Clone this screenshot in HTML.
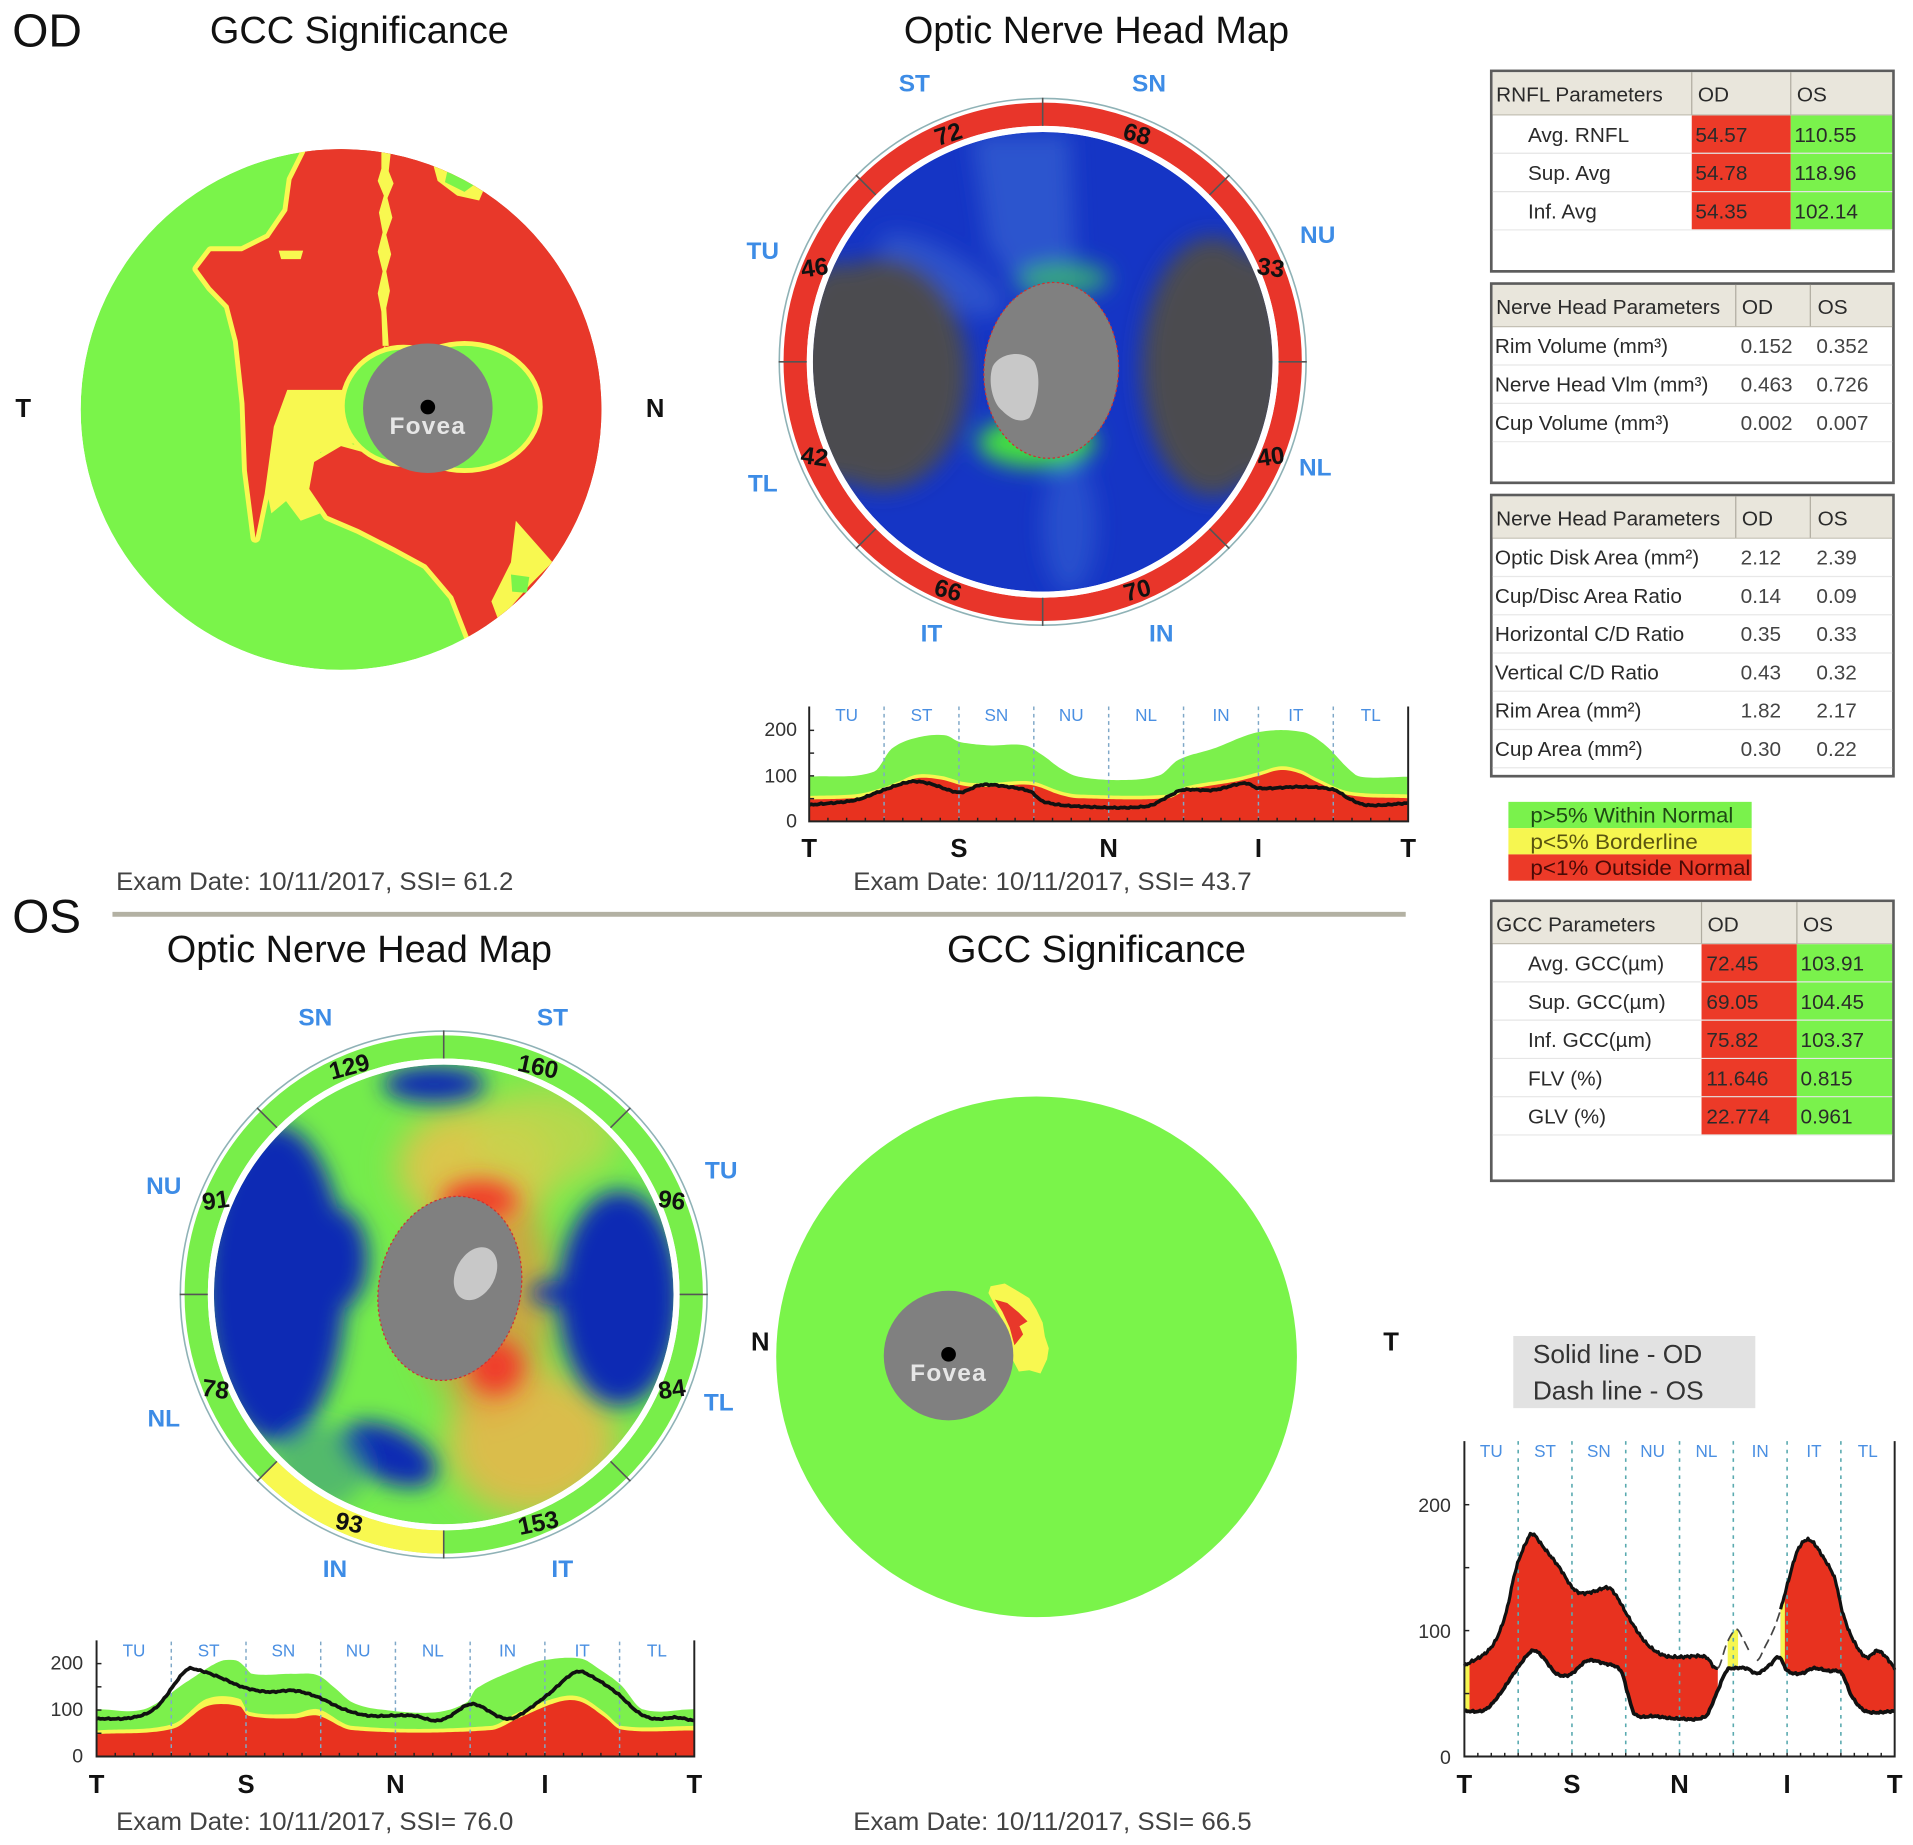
<!DOCTYPE html>
<html><head><meta charset="utf-8">
<style>
html,body{margin:0;padding:0;background:#fff;}
svg{display:block;}
text{font-family:"Liberation Sans",Arial,sans-serif;}
.t17{font-size:17px;fill:#2a2a2a;}
.v17{font-size:17px;fill:#444;}
.blue{font-size:20px;font-weight:bold;fill:#3d8ce6;text-anchor:middle;}
.num{font-size:20px;font-weight:bold;fill:#111;text-anchor:middle;}
.sec{font-size:14px;fill:#4a8fe2;text-anchor:middle;}
.ax{font-size:21px;font-weight:bold;fill:#111;text-anchor:middle;}
.tk{font-size:16px;fill:#333;text-anchor:end;}
.ex{font-size:20.5px;fill:#424242;}
</style></head><body>
<svg xmlns="http://www.w3.org/2000/svg" width="1913" height="1845" viewBox="0 0 1565 1509.4" preserveAspectRatio="none">
<defs>
<clipPath id="clipGOD"><circle cx="279" cy="335" r="213"/></clipPath>
<clipPath id="mOD"><circle cx="853" cy="296" r="188"/></clipPath>
<clipPath id="mOS"><circle cx="363" cy="1059" r="188"/></clipPath>
<filter id="b9" x="-50%" y="-50%" width="200%" height="200%"><feGaussianBlur stdDeviation="9"/></filter>
<filter id="b6" x="-50%" y="-50%" width="200%" height="200%"><feGaussianBlur stdDeviation="6"/></filter>
<filter id="b14" x="-50%" y="-50%" width="200%" height="200%"><feGaussianBlur stdDeviation="14"/></filter>
</defs>
<rect width="1565" height="1510" fill="#fff"/>

<!-- Titles -->
<text x="10" y="38" font-size="38" fill="#111">OD</text>
<text x="294" y="35" font-size="31" fill="#111" text-anchor="middle">GCC Significance</text>
<text x="897" y="35" font-size="31" fill="#111" text-anchor="middle">Optic Nerve Head Map</text>
<text x="10" y="763" font-size="39" fill="#111">OS</text>
<text x="294" y="787" font-size="31" fill="#111" text-anchor="middle">Optic Nerve Head Map</text>
<text x="897" y="787" font-size="31" fill="#111" text-anchor="middle">GCC Significance</text>
<rect x="92" y="746" width="1058" height="4" fill="#b3b1a3"/>

<!-- OD GCC significance -->
<g clip-path="url(#clipGOD)">
 <circle cx="279" cy="335" r="213" fill="#7af44a"/>
 <path d="M249.6,100 L600,100 L600,600 L383.5,600 L383.5,521 L370.7,488 L348.7,462 L323,448 L293.6,433 L268,422 L253,400 L257,378 L279,365 L301,371 L330,330 L315,283 L282.6,319 L235,319 L224,349 L216.5,404 L209,440 L202,385 L200,330 L194.5,279 L187,250 L172.5,235 L161.5,220 L172.5,205.5 L198,205.5 L220,194.5 L235,172.5 L238.5,147 L249.6,124.8 Z" fill="#e8382a" stroke="#f8f850" stroke-width="8" stroke-linejoin="round"/>
 <path d="M226,319 L292,319 L292,362 L262,370 L254,392 L262,420 L246,426 L234,410 L222,420 L218,400 L224,350 Z" fill="#f8f850"/>
 <path d="M249.6,100 L600,100 L600,600 L383.5,600 L383.5,521 L370.7,488 L348.7,462 L323,448 L293.6,433 L268,422 L253,400 L257,378 L279,365 L301,371 L330,330 L315,283 L282.6,319 L235,319 L224,349 L216.5,404 L209,440 L202,385 L200,330 L194.5,279 L187,250 L172.5,235 L161.5,220 L172.5,205.5 L198,205.5 L220,194.5 L235,172.5 L238.5,147 L249.6,124.8 Z" fill="#e8382a"/>
 <path d="M312,122 L320,122 L318,140 L322,150 L317,162 L321,178 L316,192 L320,208 L316,222 L319,238 L316,252 L318,283 L313,283 L312,255 L309,240 L313,222 L309,206 L313,190 L310,174 L314,160 L309,148 L312,138 Z" fill="#f8f850"/>
 <path d="M228,205 L248,205 L246,212 L230,212 Z" fill="#f8f850"/>
 <path d="M352,126 L398,150 L392,164 L374,160 L358,148 Z" fill="#f8f850"/>
 <path d="M366,140 L388,151 L380,157 L364,149 Z" fill="#7af44a"/>
 <path d="M422,426 L452,460 L434,478 L408,508 L402,492 L418,460 Z" fill="#f8f850"/>
 <path d="M418,470 L433,472 L431,485 L419,484 Z" fill="#7af44a"/>
 <ellipse cx="330" cy="332" rx="52" ry="50" fill="#f8f850"/>
 <ellipse cx="380" cy="333" rx="64" ry="54" fill="#f8f850"/>
 <ellipse cx="330" cy="332" rx="48" ry="46" fill="#7af44a"/>
 <ellipse cx="380" cy="333" rx="60" ry="50" fill="#7af44a"/>
</g>
<circle cx="350" cy="334" r="53" fill="#808080"/>
<circle cx="350" cy="333" r="6" fill="#000"/>
<text x="350" y="355" font-size="20" font-weight="bold" fill="#e6e6e6" text-anchor="middle" letter-spacing="1">Fovea</text>
<text x="19" y="341" class="ax">T</text>
<text x="536" y="341" class="ax">N</text>
<text x="95" y="728" class="ex" textLength="325" lengthAdjust="spacingAndGlyphs">Exam Date: 10/11/2017, SSI= 61.2</text>

<!-- OD Optic nerve head map -->
<g clip-path="url(#mOD)">
 <rect x="660" y="100" width="390" height="400" fill="#1535c5"/>
 <g filter="url(#b9)">
  <path d="M795,110 L875,110 L880,235 L840,245 L808,200 Z" fill="#3f70d6" opacity="0.55"/>
  <ellipse cx="770" cy="225" rx="58" ry="20" transform="rotate(30 770 225)" fill="#3a66d0" opacity="0.6"/>
  <ellipse cx="875" cy="430" rx="22" ry="55" fill="#3360d2" opacity="0.6"/>
  <ellipse cx="722" cy="306" rx="70" ry="95" fill="#4b4b50"/>
  <ellipse cx="685" cy="305" rx="40" ry="90" fill="#4b4b50"/>
  <ellipse cx="992" cy="300" rx="58" ry="106" fill="#4b4b50"/>
  <ellipse cx="1028" cy="300" rx="30" ry="92" fill="#4b4b50"/>
  <ellipse cx="870" cy="228" rx="38" ry="14" fill="#3cc068" opacity="0.75"/>
  <ellipse cx="848" cy="362" rx="48" ry="20" fill="#45e040"/>
 </g>
 <ellipse cx="860" cy="303" rx="55" ry="72" transform="rotate(4 860 303)" fill="#808080" stroke="#d03030" stroke-width="1" stroke-dasharray="2 2"/>
 <path d="M812,300 C818,288 838,286 846,296 C852,306 850,330 842,342 C834,347 826,342 820,336 C812,330 808,312 812,300 Z" fill="#c8c8c8"/>
</g>
<circle cx="853" cy="296" r="202.5" fill="none" stroke="#e8352a" stroke-width="19"/>
<circle cx="853" cy="296" r="190.5" fill="none" stroke="#fff" stroke-width="5"/>
<circle cx="853" cy="296" r="215.5" fill="none" stroke="#8fb2b6" stroke-width="1.3"/>
<g transform="translate(853 296)" stroke="#555" stroke-width="1.3">
 <line x1="193" y1="0" x2="216" y2="0"/><line x1="193" y1="0" x2="216" y2="0" transform="rotate(45)"/>
 <line x1="193" y1="0" x2="216" y2="0" transform="rotate(90)"/><line x1="193" y1="0" x2="216" y2="0" transform="rotate(135)"/>
 <line x1="193" y1="0" x2="216" y2="0" transform="rotate(180)"/><line x1="193" y1="0" x2="216" y2="0" transform="rotate(225)"/>
 <line x1="193" y1="0" x2="216" y2="0" transform="rotate(270)"/><line x1="193" y1="0" x2="216" y2="0" transform="rotate(315)"/>
</g>
<text class="num" x="775.7" y="116.4" transform="rotate(-18 775.7 109.4)">72</text>
<text class="num" x="930.3" y="116.4" transform="rotate(15 930.3 109.4)">68</text>
<text class="num" x="1039.6" y="225.7" transform="rotate(8 1039.6 218.7)">33</text>
<text class="num" x="1039.6" y="380.3" transform="rotate(-8 1039.6 373.3)">40</text>
<text class="num" x="930.3" y="489.6" transform="rotate(-15 930.3 482.6)">70</text>
<text class="num" x="775.7" y="489.6" transform="rotate(15 775.7 482.6)">66</text>
<text class="num" x="666.4" y="380.3" transform="rotate(8 666.4 373.3)">42</text>
<text class="num" x="666.4" y="225.7" transform="rotate(-8 666.4 218.7)">46</text>
<text class="blue" x="748" y="75">ST</text>
<text class="blue" x="940" y="75">SN</text>
<text class="blue" x="1078" y="199">NU</text>
<text class="blue" x="1076" y="389">NL</text>
<text class="blue" x="950" y="525">IN</text>
<text class="blue" x="762" y="525">IT</text>
<text class="blue" x="624" y="402">TL</text>
<text class="blue" x="624" y="212">TU</text>

<!-- OD TSNIT chart -->
<path id="aG" fill="#7cf04c"/><path id="aY" fill="#f6f650"/><path id="aR" fill="#e8321f"/>
<g id="aD" stroke="#7fa8c8" stroke-width="1.2" stroke-dasharray="3 3"></g>
<path id="aK" fill="none" stroke="#111" stroke-width="3" stroke-linejoin="round"/>
<path d="M662,578 L662,672 L1152,672 L1152,578" fill="none" stroke="#222" stroke-width="1.6"/>
<g id="aT" stroke="#222" stroke-width="1.2"></g>
<text class="tk" x="652" y="602">200</text>
<text class="tk" x="652" y="640">100</text>
<text class="tk" x="652" y="677">0</text>
<g class="sec"><text x="692.6" y="590">TU</text><text x="753.9" y="590">ST</text><text x="815.1" y="590">SN</text><text x="876.4" y="590">NU</text><text x="937.6" y="590">NL</text><text x="998.9" y="590">IN</text><text x="1060.1" y="590">IT</text><text x="1121.4" y="590">TL</text></g>
<text class="ax" x="662" y="701">T</text><text class="ax" x="784.5" y="701">S</text><text class="ax" x="907" y="701">N</text><text class="ax" x="1029.5" y="701">I</text><text class="ax" x="1152" y="701">T</text>
<text x="698" y="728" class="ex" textLength="326" lengthAdjust="spacingAndGlyphs">Exam Date: 10/11/2017, SSI= 43.7</text>

<!-- Tables -->
<g>
 <rect x="1220" y="58" width="329" height="164" fill="#fff" stroke="#5c5c5c" stroke-width="2.2"/>
 <rect x="1221.1" y="59.1" width="326.8" height="35" fill="#e9e6dc"/>
 <line x1="1221" y1="94" x2="1548" y2="94" stroke="#c4c0b4" stroke-width="1"/>
 <line x1="1384" y1="59" x2="1384" y2="94" stroke="#b0aca0"/><line x1="1465" y1="59" x2="1465" y2="94" stroke="#b0aca0"/>
 <rect x="1384" y="94.5" width="81" height="93.6" fill="#ec3a28"/>
 <rect x="1465" y="94.5" width="82.9" height="93.6" fill="#7af24c"/>
 <line x1="1221" y1="125.4" x2="1548" y2="125.4" stroke="#e4e4e4"/><line x1="1221" y1="156.8" x2="1548" y2="156.8" stroke="#e4e4e4"/><line x1="1221" y1="188.1" x2="1548" y2="188.1" stroke="#eaeaea"/>
 <text class="t17" x="1224" y="83">RNFL Parameters</text><text class="t17" x="1389" y="83">OD</text><text class="t17" x="1470" y="83">OS</text>
 <text class="t17" x="1250" y="116">Avg. RNFL</text><text class="t17" x="1387" y="116" fill="#3a0805">54.57</text><text class="t17" x="1468" y="116" fill="#0c2e06">110.55</text>
 <text class="t17" x="1250" y="147.4">Sup. Avg</text><text class="t17" x="1387" y="147.4" fill="#3a0805">54.78</text><text class="t17" x="1468" y="147.4" fill="#0c2e06">118.96</text>
 <text class="t17" x="1250" y="178.8">Inf. Avg</text><text class="t17" x="1387" y="178.8" fill="#3a0805">54.35</text><text class="t17" x="1468" y="178.8" fill="#0c2e06">102.14</text>
</g>
<g>
 <rect x="1220" y="232" width="329" height="163" fill="#fff" stroke="#5c5c5c" stroke-width="2.2"/>
 <rect x="1221.1" y="233.1" width="326.8" height="34" fill="#e9e6dc"/>
 <line x1="1221" y1="267.2" x2="1548" y2="267.2" stroke="#c4c0b4"/>
 <line x1="1420" y1="233" x2="1420" y2="267" stroke="#b0aca0"/><line x1="1481" y1="233" x2="1481" y2="267" stroke="#b0aca0"/>
 <line x1="1221" y1="298.6" x2="1548" y2="298.6" stroke="#e8e8e8"/><line x1="1221" y1="330" x2="1548" y2="330" stroke="#e8e8e8"/><line x1="1221" y1="361.3" x2="1548" y2="361.3" stroke="#ececec"/>
 <text class="t17" x="1224" y="257">Nerve Head Parameters</text><text class="t17" x="1425" y="257">OD</text><text class="t17" x="1487" y="257">OS</text>
 <text class="t17" x="1223" y="289">Rim Volume (mm³)</text><text class="v17" x="1424" y="289">0.152</text><text class="v17" x="1486" y="289">0.352</text>
 <text class="t17" x="1223" y="320.4">Nerve Head Vlm (mm³)</text><text class="v17" x="1424" y="320.4">0.463</text><text class="v17" x="1486" y="320.4">0.726</text>
 <text class="t17" x="1223" y="351.7">Cup Volume (mm³)</text><text class="v17" x="1424" y="351.7">0.002</text><text class="v17" x="1486" y="351.7">0.007</text>
</g>
<g>
 <rect x="1220" y="405" width="329" height="230" fill="#fff" stroke="#5c5c5c" stroke-width="2.2"/>
 <rect x="1221.1" y="406.1" width="326.8" height="34" fill="#e9e6dc"/>
 <line x1="1221" y1="440.3" x2="1548" y2="440.3" stroke="#c4c0b4"/>
 <line x1="1420" y1="406" x2="1420" y2="440" stroke="#b0aca0"/><line x1="1481" y1="406" x2="1481" y2="440" stroke="#b0aca0"/>
 <g stroke="#e8e8e8"><line x1="1221" y1="471.6" x2="1548" y2="471.6"/><line x1="1221" y1="502.9" x2="1548" y2="502.9"/><line x1="1221" y1="534.2" x2="1548" y2="534.2"/><line x1="1221" y1="565.5" x2="1548" y2="565.5"/><line x1="1221" y1="596.8" x2="1548" y2="596.8"/><line x1="1221" y1="628.1" x2="1548" y2="628.1"/></g>
 <text class="t17" x="1224" y="430">Nerve Head Parameters</text><text class="t17" x="1425" y="430">OD</text><text class="t17" x="1487" y="430">OS</text>
 <text class="t17" x="1223" y="462">Optic Disk Area (mm²)</text><text class="v17" x="1424" y="462">2.12</text><text class="v17" x="1486" y="462">2.39</text>
 <text class="t17" x="1223" y="493.3">Cup/Disc Area Ratio</text><text class="v17" x="1424" y="493.3">0.14</text><text class="v17" x="1486" y="493.3">0.09</text>
 <text class="t17" x="1223" y="524.6">Horizontal C/D Ratio</text><text class="v17" x="1424" y="524.6">0.35</text><text class="v17" x="1486" y="524.6">0.33</text>
 <text class="t17" x="1223" y="555.9">Vertical C/D Ratio</text><text class="v17" x="1424" y="555.9">0.43</text><text class="v17" x="1486" y="555.9">0.32</text>
 <text class="t17" x="1223" y="587.2">Rim Area (mm²)</text><text class="v17" x="1424" y="587.2">1.82</text><text class="v17" x="1486" y="587.2">2.17</text>
 <text class="t17" x="1223" y="618.5">Cup Area (mm²)</text><text class="v17" x="1424" y="618.5">0.30</text><text class="v17" x="1486" y="618.5">0.22</text>
</g>
<!-- Legend -->
<rect x="1234" y="656" width="199" height="21.5" fill="#7af24c"/>
<rect x="1234" y="677.5" width="199" height="21.5" fill="#f6f650"/>
<rect x="1234" y="699" width="199" height="21.5" fill="#ec3a28"/>
<text x="1252" y="673" font-size="17.5" fill="#1f4a14" textLength="166" lengthAdjust="spacingAndGlyphs">p&gt;5% Within Normal</text>
<text x="1252" y="694.5" font-size="17.5" fill="#5a5410" textLength="137" lengthAdjust="spacingAndGlyphs">p&lt;5% Borderline</text>
<text x="1252" y="716" font-size="17.5" fill="#4a0a06" textLength="180" lengthAdjust="spacingAndGlyphs">p&lt;1% Outside Normal</text>
<g>
 <rect x="1220" y="737" width="329" height="229" fill="#fff" stroke="#5c5c5c" stroke-width="2.2"/>
 <rect x="1221.1" y="738.1" width="326.8" height="34" fill="#e9e6dc"/>
 <line x1="1221" y1="772" x2="1548" y2="772" stroke="#c4c0b4"/>
 <line x1="1392" y1="738" x2="1392" y2="772" stroke="#b0aca0"/><line x1="1470" y1="738" x2="1470" y2="772" stroke="#b0aca0"/>
 <rect x="1392" y="772.5" width="78" height="156" fill="#ec3a28"/>
 <rect x="1470" y="772.5" width="77.9" height="156" fill="#7af24c"/>
 <g stroke="#e6e6e6"><line x1="1221" y1="803.3" x2="1548" y2="803.3"/><line x1="1221" y1="834.6" x2="1548" y2="834.6"/><line x1="1221" y1="865.9" x2="1548" y2="865.9"/><line x1="1221" y1="897.2" x2="1548" y2="897.2"/><line x1="1221" y1="928.5" x2="1548" y2="928.5"/></g>
 <text class="t17" x="1224" y="762">GCC Parameters</text><text class="t17" x="1397" y="762">OD</text><text class="t17" x="1475" y="762">OS</text>
 <text class="t17" x="1250" y="794">Avg. GCC(µm)</text><text class="t17" x="1396" y="794" fill="#3a0805">72.45</text><text class="t17" x="1473" y="794" fill="#0c2e06">103.91</text>
 <text class="t17" x="1250" y="825.3">Sup. GCC(µm)</text><text class="t17" x="1396" y="825.3" fill="#3a0805">69.05</text><text class="t17" x="1473" y="825.3" fill="#0c2e06">104.45</text>
 <text class="t17" x="1250" y="856.6">Inf. GCC(µm)</text><text class="t17" x="1396" y="856.6" fill="#3a0805">75.82</text><text class="t17" x="1473" y="856.6" fill="#0c2e06">103.37</text>
 <text class="t17" x="1250" y="887.9">FLV (%)</text><text class="t17" x="1396" y="887.9" fill="#3a0805">11.646</text><text class="t17" x="1473" y="887.9" fill="#0c2e06">0.815</text>
 <text class="t17" x="1250" y="919.2">GLV (%)</text><text class="t17" x="1396" y="919.2" fill="#3a0805">22.774</text><text class="t17" x="1473" y="919.2" fill="#0c2e06">0.961</text>
</g>

<!-- OS Optic nerve head map -->
<g clip-path="url(#mOS)">
 <rect x="170" y="866" width="390" height="390" fill="#74ec4c"/>
 <g filter="url(#b14)">
  <ellipse cx="390" cy="955" rx="65" ry="50" fill="#e6c24a" opacity="0.9"/>
  <ellipse cx="445" cy="930" rx="60" ry="40" fill="#c4d44c" opacity="0.8"/>
  <ellipse cx="435" cy="1180" rx="70" ry="60" fill="#e6b84a" opacity="0.9"/>
  <ellipse cx="398" cy="1060" rx="55" ry="95" fill="#ee8a3a" opacity="0.7"/>
 </g>
 <g filter="url(#b9)">
  <ellipse cx="392" cy="982" rx="30" ry="15" fill="#f03c2c"/>
  <ellipse cx="405" cy="1118" rx="22" ry="22" fill="#f03c2c"/>
  <ellipse cx="225" cy="1050" rx="58" ry="130" fill="#0c2cb4"/>
  <ellipse cx="275" cy="1030" rx="26" ry="42" fill="#0c2cb4"/>
  <ellipse cx="355" cy="887" rx="42" ry="15" fill="#0c2cb4"/>
  <ellipse cx="507" cy="1062" rx="50" ry="88" fill="#0c2cb4"/>
  <ellipse cx="455" cy="1058" rx="22" ry="10" fill="#0c2cb4"/>
  <ellipse cx="318" cy="1190" rx="42" ry="22" transform="rotate(25 318 1190)" fill="#0c2cb4"/>
  <ellipse cx="262" cy="1200" rx="38" ry="34" fill="#3a9a80" opacity="0.6"/>
 </g>
 <ellipse cx="368" cy="1054" rx="58" ry="76" transform="rotate(12 368 1054)" fill="#808080" stroke="#d03030" stroke-width="1" stroke-dasharray="2 2"/>
 <ellipse cx="389" cy="1042" rx="16" ry="23" transform="rotate(28 389 1042)" fill="#c8c8c8"/>
</g>
<circle cx="363" cy="1059" r="202.5" fill="none" stroke="#78ee4a" stroke-width="19"/>
<path d="M363,1261.5 A202.5,202.5 0 0 1 219.8,1202.2" fill="none" stroke="#f8f850" stroke-width="19"/>
<circle cx="363" cy="1059" r="190.5" fill="none" stroke="#fff" stroke-width="5"/>
<circle cx="363" cy="1059" r="215.5" fill="none" stroke="#8fb2b6" stroke-width="1.3"/>
<g transform="translate(363 1059)" stroke="#555" stroke-width="1.3">
 <line x1="193" y1="0" x2="216" y2="0"/><line x1="193" y1="0" x2="216" y2="0" transform="rotate(45)"/>
 <line x1="193" y1="0" x2="216" y2="0" transform="rotate(90)"/><line x1="193" y1="0" x2="216" y2="0" transform="rotate(135)"/>
 <line x1="193" y1="0" x2="216" y2="0" transform="rotate(180)"/><line x1="193" y1="0" x2="216" y2="0" transform="rotate(225)"/>
 <line x1="193" y1="0" x2="216" y2="0" transform="rotate(270)"/><line x1="193" y1="0" x2="216" y2="0" transform="rotate(315)"/>
</g>
<text class="num" x="285.7" y="879.4" transform="rotate(-15 285.7 872.4)">129</text>
<text class="num" x="440.3" y="879.4" transform="rotate(12 440.3 872.4)">160</text>
<text class="num" x="549.6" y="988.7" transform="rotate(8 549.6 981.7)">96</text>
<text class="num" x="549.6" y="1143.3" transform="rotate(-8 549.6 1136.3)">84</text>
<text class="num" x="440.3" y="1252.6" transform="rotate(-12 440.3 1245.6)">153</text>
<text class="num" x="285.7" y="1252.6" transform="rotate(12 285.7 1245.6)">93</text>
<text class="num" x="176.4" y="1143.3" transform="rotate(8 176.4 1136.3)">78</text>
<text class="num" x="176.4" y="988.7" transform="rotate(-8 176.4 981.7)">91</text>
<text class="blue" x="258" y="839">SN</text>
<text class="blue" x="452" y="839">ST</text>
<text class="blue" x="134" y="977">NU</text>
<text class="blue" x="590" y="964">TU</text>
<text class="blue" x="134" y="1167">NL</text>
<text class="blue" x="588" y="1154">TL</text>
<text class="blue" x="274" y="1290">IN</text>
<text class="blue" x="460" y="1290">IT</text>

<!-- OS TSNIT chart -->
<path id="bG" fill="#7cf04c"/><path id="bY" fill="#f6f650"/><path id="bR" fill="#e8321f"/>
<g id="bD" stroke="#7fa8c8" stroke-width="1.2" stroke-dasharray="3 3"></g>
<path id="bK" fill="none" stroke="#111" stroke-width="3" stroke-linejoin="round"/>
<path d="M79,1342 L79,1437 L568,1437 L568,1342" fill="none" stroke="#222" stroke-width="1.6"/>
<g id="bT" stroke="#222" stroke-width="1.2"></g>
<text class="tk" x="68" y="1366">200</text>
<text class="tk" x="68" y="1404">100</text>
<text class="tk" x="68" y="1442">0</text>
<g class="sec"><text x="109.6" y="1355">TU</text><text x="170.7" y="1355">ST</text><text x="231.8" y="1355">SN</text><text x="293" y="1355">NU</text><text x="354.1" y="1355">NL</text><text x="415.2" y="1355">IN</text><text x="476.3" y="1355">IT</text><text x="537.4" y="1355">TL</text></g>
<text class="ax" x="79" y="1467">T</text><text class="ax" x="201.3" y="1467">S</text><text class="ax" x="323.5" y="1467">N</text><text class="ax" x="445.8" y="1467">I</text><text class="ax" x="568" y="1467">T</text>
<text x="95" y="1497" class="ex" textLength="325" lengthAdjust="spacingAndGlyphs">Exam Date: 10/11/2017, SSI= 76.0</text>

<!-- OS GCC significance -->
<circle cx="848" cy="1110" r="213" fill="#7af44a"/>
<path d="M810.4,1052.3 L822,1050 L833.5,1056.8 L842,1062 L847.7,1071 L853,1082 L854.8,1093.4 L858,1103 L856.6,1112 L851.2,1123.7 L842,1121 L833.5,1122 L826,1108 L820,1080 L808.6,1057.8 Z" fill="#f8f850"/>
<path d="M813.9,1063.2 L824,1066 L833.5,1073.9 L840.6,1081 L834,1085 L837,1091.7 L829.9,1100.6 L826,1086 L820,1073 Z" fill="#e8382a"/>
<circle cx="776" cy="1109" r="53" fill="#808080"/>
<circle cx="776" cy="1108" r="6" fill="#000"/>
<text x="776" y="1130" font-size="20" font-weight="bold" fill="#e6e6e6" text-anchor="middle" letter-spacing="1">Fovea</text>
<text class="ax" x="622" y="1105">N</text>
<text class="ax" x="1138" y="1105">T</text>
<text x="698" y="1497" class="ex" textLength="326" lengthAdjust="spacingAndGlyphs">Exam Date: 10/11/2017, SSI= 66.5</text>

<!-- Comparison chart -->
<rect x="1238" y="1093" width="198" height="59" fill="#e2e2e2"/>
<text x="1254" y="1115" font-size="21.5" fill="#333">Solid line - OD</text>
<text x="1254" y="1145" font-size="21.5" fill="#333">Dash line - OS</text>
<path id="cR1" fill="#e8321f"/><path id="cR2" fill="#e8321f"/>
<path id="cY1" fill="#f6f650"/><path id="cY2" fill="#f6f650"/><path id="cY3" fill="#f6f650"/>
<g id="cDv" stroke="#5aaab0" stroke-width="1.3" stroke-dasharray="3 4"></g>
<path id="cO1" fill="none" stroke="#111" stroke-width="2.6" stroke-linejoin="round"/>
<path id="cO2" fill="none" stroke="#111" stroke-width="2.6" stroke-linejoin="round"/>
<path id="cO3" fill="none" stroke="#444" stroke-width="1.4" stroke-dasharray="8 4"/>
<path id="cO4" fill="none" stroke="#444" stroke-width="1.4" stroke-dasharray="8 4"/>
<path id="cODl" fill="none" stroke="#111" stroke-width="3" stroke-linejoin="round"/>
<path d="M1198,1179 L1198,1437 L1550,1437 L1550,1179" fill="none" stroke="#222" stroke-width="1.6"/>
<g id="cT" stroke="#222" stroke-width="1.2"></g>
<text class="tk" x="1187" y="1237" font-size="17">200</text>
<text class="tk" x="1187" y="1340" font-size="17">100</text>
<text class="tk" x="1187" y="1443" font-size="17">0</text>
<g class="sec"><text x="1220" y="1192">TU</text><text x="1264" y="1192">ST</text><text x="1308" y="1192">SN</text><text x="1352" y="1192">NU</text><text x="1396" y="1192">NL</text><text x="1440" y="1192">IN</text><text x="1484" y="1192">IT</text><text x="1528" y="1192">TL</text></g>
<text class="ax" x="1198" y="1467">T</text><text class="ax" x="1286" y="1467">S</text><text class="ax" x="1374" y="1467">N</text><text class="ax" x="1462" y="1467">I</text><text class="ax" x="1550" y="1467">T</text>
</svg>
<script>
(function(){
function ev(d,f){
 if(f<=d[0][0])return d[0][1];
 if(f>=d[d.length-1][0])return d[d.length-1][1];
 var k=0; while(k<d.length-2&&d[k+1][0]<f)k++;
 var p0=d[Math.max(k-1,0)],p1=d[k],p2=d[k+1],p3=d[Math.min(k+2,d.length-1)];
 var h=p2[0]-p1[0], t=(f-p1[0])/h;
 var m1=(p2[1]-p0[1])/((p2[0]-p0[0])||1)*h;
 var m2=(p3[1]-p1[1])/((p3[0]-p1[0])||1)*h;
 var t2=t*t,t3=t2*t;
 return (2*t3-3*t2+1)*p1[1]+(t3-2*t2+t)*m1+(-2*t3+3*t2)*p2[1]+(t3-t2)*m2;
}
function C(x0,x1,y0,s){return {X:function(f){return x0+f*(x1-x0);},Y:function(v){return y0-v*s;},x0:x0,x1:x1,y0:y0};}
function area(c,d,n,off){var s='M'+c.x0+','+c.y0;for(var i=0;i<=n;i++){var f=i/n;s+=' L'+c.X(f).toFixed(1)+','+c.Y(ev(d,f)+(off||0)).toFixed(1);}return s+' L'+c.x1+','+c.y0+'Z';}
function line(c,d,a,b,n,j){var s='';for(var i=0;i<=n;i++){var f=a+(b-a)*i/n;var v=ev(d,f);if(j)v+=j*Math.sin(i*1.9)*Math.cos(i*0.53);s+=(i?' L':'M')+c.X(f).toFixed(1)+','+c.Y(v).toFixed(1);}return s;}
function band(c,up,lo,a,b,n){var s='';for(var i=0;i<=n;i++){var f=a+(b-a)*i/n;s+=(i?' L':'M')+c.X(f).toFixed(1)+','+c.Y(ev(up,f)).toFixed(1);}for(var i=n;i>=0;i--){var f=a+(b-a)*i/n;s+=' L'+c.X(f).toFixed(1)+','+c.Y(ev(lo,f)).toFixed(1);}return s+'Z';}
function set(id,d){var e=document.getElementById(id);if(e)e.setAttribute('d',d);}
var NS='http://www.w3.org/2000/svg';
function addLine(g,x1,y1,x2,y2){var l=document.createElementNS(NS,'line');l.setAttribute('x1',x1);l.setAttribute('y1',y1);l.setAttribute('x2',x2);l.setAttribute('y2',y2);document.getElementById(g).appendChild(l);}
function deco(c,dg,tg,top){for(var i=1;i<8;i++){var x=c.X(i/8);addLine(dg,x,top,x,c.y0);}
 for(var v=50;v<=200;v+=50){addLine(tg,c.x0,c.Y(v),c.x0+4,c.Y(v));}
 for(var i=1;i<32;i++){var x=c.X(i/32);addLine(tg,x,c.y0,x,c.y0-3);}}

var A=C(662,1152,672,0.3725);
var gA=[[0,98],[0.108,109],[0.138,160],[0.183,185],[0.228,189],[0.25,175],[0.3,167],[0.36,167],[0.39,145],[0.42,116],[0.45,98],[0.526,91],[0.586,102],[0.616,135],[0.675,160],[0.75,196],[0.825,196],[0.862,167],[0.9,116],[0.92,98],[1,98]];
var rA=[[0,48],[0.08,52],[0.12,65],[0.15,80],[0.18,95],[0.22,92],[0.26,78],[0.3,76],[0.37,80],[0.42,58],[0.45,51],[0.6,51],[0.63,69],[0.71,87],[0.75,100],[0.787,113],[0.82,105],[0.847,87],[0.9,58],[1,51]];
var kA=[[0,36],[0.078,47],[0.116,65],[0.168,87],[0.198,84],[0.243,65],[0.257,65],[0.287,80],[0.332,76],[0.37,65],[0.39,44],[0.45,33],[0.563,33],[0.6,55],[0.623,69],[0.675,69],[0.728,84],[0.75,73],[0.824,76],[0.877,69],[0.9,51],[0.93,36],[1,40]];
set('aG',area(A,gA,240));set('aY',area(A,rA,240,8));set('aR',area(A,rA,240));set('aK',line(A,kA,0,1,300,1.6));
deco(A,'aD','aT',578);

var B=C(79,568,1437,0.38);
var gB=[[0,102],[0.08,102],[0.15,160],[0.205,204],[0.233,207],[0.246,196],[0.26,178],[0.33,178],[0.37,175],[0.4,146],[0.427,117],[0.47,102],[0.566,95],[0.62,117],[0.635,146],[0.705,189],[0.747,207],[0.81,211],[0.84,189],[0.878,153],[0.913,102],[1,102]];
var yB=[[0,56],[0.128,70],[0.184,124],[0.24,124],[0.253,97],[0.33,92],[0.37,102],[0.427,66],[0.66,66],[0.705,95],[0.774,128],[0.81,128],[0.85,95],[0.878,66],[1,66]];
var rB=[[0,48],[0.128,60],[0.184,108],[0.24,108],[0.253,88],[0.33,82],[0.37,88],[0.427,57],[0.66,57],[0.705,82],[0.774,118],[0.81,118],[0.85,85],[0.878,58],[1,56]];
var kB=[[0,81],[0.06,84],[0.1,106],[0.15,186],[0.17,186],[0.205,171],[0.246,149],[0.288,139],[0.33,142],[0.37,128],[0.413,102],[0.455,88],[0.53,88],[0.566,77],[0.587,84],[0.628,113],[0.677,84],[0.7,84],[0.753,131],[0.802,182],[0.83,171],[0.872,135],[0.906,95],[0.934,81],[0.969,84],[1,77]];
set('bG',area(B,gB,240));set('bY',area(B,yB,240));set('bR',area(B,rB,240));set('bK',line(B,kB,0,1,300,1.6));
deco(B,'bD','bT',1343);

var Cc=C(1198,1550,1437,1.03);
var OS=[[0,72],[0.063,87],[0.095,112],[0.119,148],[0.146,172],[0.158,177],[0.182,167],[0.221,150],[0.249,135],[0.269,130],[0.300,131],[0.336,134],[0.356,126],[0.379,112],[0.411,95],[0.435,86],[0.466,80],[0.498,79],[0.561,79],[0.589,70],[0.61,90],[0.632,101],[0.645,95],[0.665,82],[0.68,76],[0.70,88],[0.72,102],[0.735,117],[0.751,137],[0.775,164],[0.802,172],[0.838,156],[0.862,140],[0.877,117],[0.9,95],[0.933,79],[0.96,84],[0.98,79],[1,70]];
var OD=[[0,36],[0.047,37],[0.079,48],[0.119,68],[0.158,84],[0.182,79],[0.213,66],[0.245,65],[0.285,76],[0.324,74],[0.364,68],[0.379,51],[0.395,34],[0.443,32],[0.498,30],[0.561,32],[0.581,46],[0.609,68],[0.625,70],[0.656,70],[0.68,66],[0.711,73],[0.731,79],[0.751,68],[0.783,66],[0.81,70],[0.846,68],[0.877,66],[0.9,48],[0.933,36],[1,36]];
set('cR1',band(Cc,OS,OD,0,0.589,200));set('cR2',band(Cc,OS,OD,0.735,1,120));
set('cY1',band(Cc,OS,OD,0,0.012,6));set('cY2',band(Cc,OS,OD,0.612,0.636,10));set('cY3',band(Cc,OS,OD,0.735,0.745,6));
set('cO1',line(Cc,OS,0,0.589,200,1.2));set('cO2',line(Cc,OS,0.735,1,100,1.2));
set('cO3',line(Cc,OS,0.589,0.665,30,0));set('cO4',line(Cc,OS,0.68,0.735,20,0));
set('cODl',line(Cc,OD,0,1,300,0.8));
deco(Cc,'cDv','cT',1179);
})();
</script>
</body></html>
